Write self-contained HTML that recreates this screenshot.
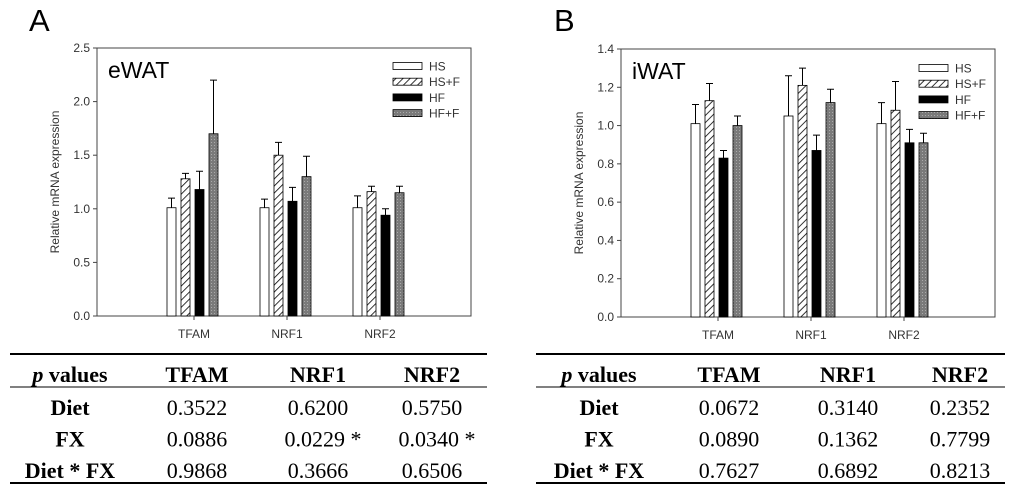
<!DOCTYPE html>
<html><head><meta charset="utf-8"><style>
html,body{margin:0;padding:0;background:#fff;width:1024px;height:492px;overflow:hidden}
svg{display:block}
.ax{font-family:"Liberation Sans",sans-serif;font-size:12px;fill:#333}
.tb{font-family:"Liberation Serif",serif;font-size:22px;fill:#000}
</style></head><body>
<svg id="fig" width="1024" height="492" xmlns="http://www.w3.org/2000/svg">
<defs>
<pattern id="hatch" width="5" height="5" patternUnits="userSpaceOnUse" patternTransform="rotate(45)">
<rect width="5" height="5" fill="#fff"/><line x1="0" y1="0" x2="0" y2="5" stroke="#000" stroke-width="1.6"/></pattern>
<pattern id="dots" width="3" height="3" patternUnits="userSpaceOnUse">
<rect width="3" height="3" fill="#7a7a7a"/><rect x="1" y="1" width="1" height="1" fill="#aaa"/></pattern>
</defs>
</svg>
<script>
const categories=["TFAM","NRF1","NRF2"];
const seriesNames=["HS","HS+F","HF","HF+F"];
const aValues=[[1.01,1.01,1.01],[1.28,1.50,1.16],[1.18,1.07,0.94],[1.70,1.30,1.15]];
const aErrors=[[0.09,0.08,0.11],[0.05,0.12,0.05],[0.17,0.13,0.06],[0.50,0.19,0.06]];
const bValues=[[1.01,1.05,1.01],[1.13,1.21,1.08],[0.83,0.87,0.91],[1.00,1.12,0.91]];
const bErrors=[[0.10,0.21,0.11],[0.09,0.09,0.15],[0.04,0.08,0.07],[0.05,0.07,0.05]];
const aTicks=["0.0","0.5","1.0","1.5","2.0","2.5"];
const bTicks=["0.0","0.2","0.4","0.6","0.8","1.0","1.2","1.4"];
const pRows=["Diet","FX","Diet * FX"];
const aP=[["0.3522","0.6200","0.5750"],["0.0886","0.0229 *","0.0340 *"],["0.9868","0.3666","0.6506"]];
const bP=[["0.0672","0.3140","0.2352"],["0.0890","0.1362","0.7799"],["0.7627","0.6892","0.8213"]];

const NS="http://www.w3.org/2000/svg";
const svg=document.getElementById('fig');
function el(tag,attrs,parent,text){const e=document.createElementNS(NS,tag);for(const k in attrs)e.setAttribute(k,attrs[k]);if(text!==undefined)e.textContent=text;(parent||svg).appendChild(e);return e;}
const fills=["#fff","url(#hatch)","#000","url(#dots)"];

function panel(o){
  const g=el('g',{});
  
  
  const letter=el('text',{x:o.letterX,y:31,'font-family':'Liberation Sans, sans-serif','font-size':31,fill:'#000'},g,o.letter);
  
  const y=v=>o.y0-(v/o.max)*(o.y0-o.y1);
  const box=el('rect',{x:o.x0,y:o.y1,width:o.x1-o.x0,height:o.y0-o.y1,fill:'none',stroke:'#444','stroke-width':1},g);
  
  o.ticks.forEach(t=>{const v=parseFloat(t);const yy=y(v);
    el('line',{x1:o.x0-4,x2:o.x0,y1:yy,y2:yy,stroke:'#444'},g);
    const tl=el('text',{x:o.x0-7,y:yy+4,'text-anchor':'end',class:'ax'},g,t);
    });
  const yt=el('text',{x:0,y:0,class:'ax','font-size':11,'text-anchor':'middle',transform:`translate(${o.x0-38},${(o.y0+o.y1)/2}) rotate(-90)`},g,'Relative mRNA expression');
  
  const tt=el('text',{x:o.x0+11,y:o.y1+30,'font-family':'Liberation Sans, sans-serif','font-size':23,fill:'#000'},g,o.title);
  
  categories.forEach((c,ci)=>{
    const cx=o.cx0+ci*93;
    el('line',{x1:cx,x2:cx,y1:o.y0,y2:o.y0+4,stroke:'#444'},g);
    const cl=el('text',{x:cx,y:o.y0+22,'text-anchor':'middle',class:'ax','font-size':13},g,c);
    
    for(let s=0;s<4;s++){
      const v=o.vals[s][ci],e=o.errs[s][ci];
      const bx=cx-27+s*14;
      const b=el('rect',{x:bx,y:y(v),width:9,height:o.y0-y(v),fill:fills[s],stroke:'#000','stroke-width':0.8},g);
      
      
      const mx=bx+4.5;
      const eb=el('path',{d:`M${mx},${y(v)}V${y(v+e)}M${mx-3.5},${y(v+e)}H${mx+3.5}`,stroke:'#000','stroke-width':1,fill:'none'},g);
      
    }
  });
  seriesNames.forEach((n,i)=>{
    const ly=o.legY+i*15.7;
    const lr=el('rect',{x:o.legX,y:ly-3.5,width:29,height:7,fill:fills[i],stroke:'#000','stroke-width':0.8},g);
    
    const lt=el('text',{x:o.legX+36,y:ly+4.5,class:'ax','font-size':12},g,n);
    
  });
}
panel({id:'ewat',letter:'A',letterX:29,title:'eWAT',x0:97,x1:471,y0:316,y1:48,max:2.5,ticks:aTicks,vals:aValues,errs:aErrors,cx0:194,legX:393,legY:66});
panel({id:'iwat',letter:'B',letterX:554,title:'iWAT',x0:621,x1:995,y0:317,y1:49,max:1.4,ticks:bTicks,vals:bValues,errs:bErrors,cx0:718,legX:919,legY:68});

function table(o){
  const g=el('g',{});
  
  
  el('line',{x1:o.xl,x2:o.xr,y1:354,y2:354,stroke:'#000','stroke-width':2},g);
  el('line',{x1:o.xl,x2:o.xr,y1:387,y2:387,stroke:'#000','stroke-width':1},g);
  el('line',{x1:o.xl,x2:o.xr,y1:483,y2:483,stroke:'#000','stroke-width':2},g);
  const h=el('text',{x:o.cols[0],y:382,'text-anchor':'middle',class:'tb','font-weight':'bold'},g);
  
  el('tspan',{'font-style':'italic'},h,'p');el('tspan',{},h,' values');
  categories.forEach((c,i)=>{const t=el('text',{x:o.cols[i+1],y:382,'text-anchor':'middle',class:'tb','font-weight':'bold'},g,c);
    });
  pRows.forEach((r,ri)=>{const yy=415+ri*31.5;
    const rl=el('text',{x:o.cols[0],y:yy,'text-anchor':'middle',class:'tb','font-weight':'bold'},g,r);
    
    o.p[ri].forEach((v,ci)=>{const star=v.includes('*');
      const t=el('text',{x:o.cols[ci+1]+(star?5:0),y:yy,'text-anchor':'middle',class:'tb'},g,v);
      });
  });
}
table({id:'ewat',xl:10,xr:487,cols:[70,197,318,432],p:aP});
table({id:'iwat',xl:536,xr:1005,cols:[599,729,848,960],p:bP});
</script>
</body></html>
